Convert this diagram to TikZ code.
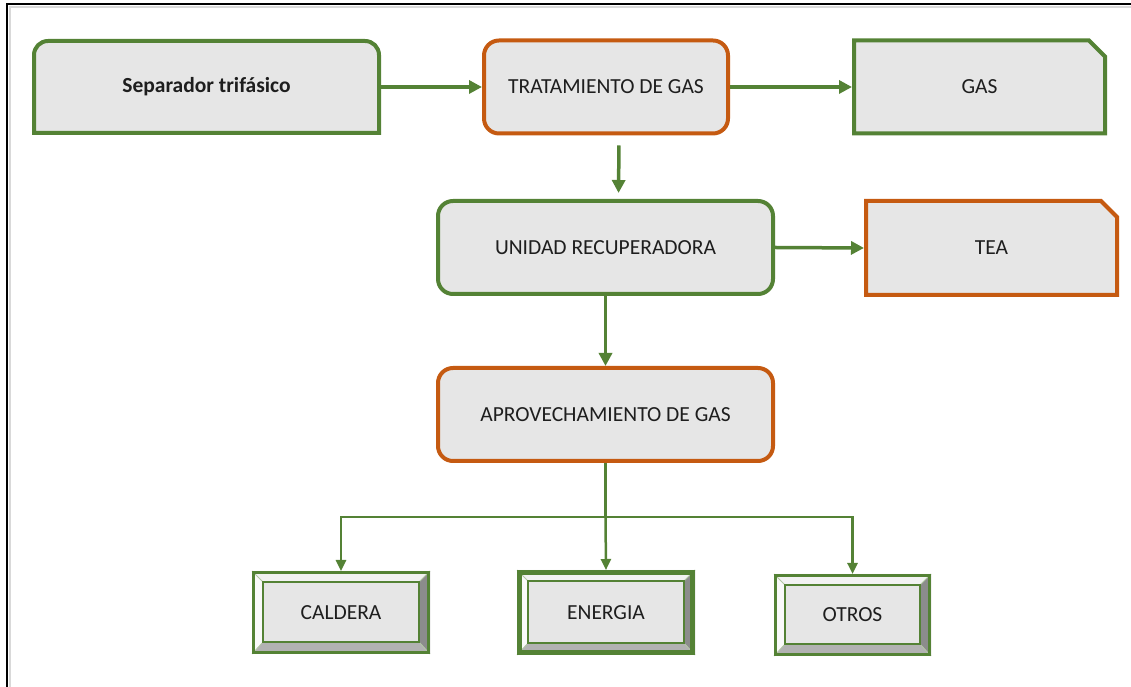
\documentclass[tikz,border=0pt]{standalone}
\usepackage{fontspec}
\setmainfont{Carlito}
\usetikzlibrary{arrows.meta,backgrounds}
\definecolor{grn}{HTML}{548235}
\definecolor{org}{HTML}{C55A11}
\definecolor{boxgray}{HTML}{E6E6E6}
\definecolor{txt}{HTML}{1E1E1E}

\begin{document}
\begin{tikzpicture}[x=1pt,y=1pt,
  font=\fontsize{21.5}{25}\selectfont, text=txt,
  roundbox/.style={draw=#1, fill=boxgray, line width=4pt, rounded corners=15pt, minimum width=335, minimum height=93},
  snipbox/.style={outer sep=0pt, minimum width=251, minimum height=93},
  bevelbox/.style={draw=grn, line width=3pt, minimum width=175, minimum height=80},
  arr/.style={draw=grn, line width=3.5pt, -{Triangle[length=13pt,width=13pt]}},
  thinarr/.style={draw=grn, line width=2.5pt, -{Triangle[length=11pt,width=10pt]}}]
\useasboundingbox (0,0) rectangle (1131,687);

% frame
\draw[black!15, line width=2pt] (9.5,0) -- (9.5,680) -- (1131,680);
\draw[black, line width=2pt] (6.5,0) -- (6.5,683) -- (1131,683);

% boxes
\node[minimum width=345, minimum height=92, outer sep=0pt, font=\fontsize{21.5}{25}\selectfont\bfseries] (sep) at (206.5,600) {Separador trifásico};
\node[roundbox=org, minimum width=244] (trat) at (606,600) {TRATAMIENTO DE GAS};
\node[snipbox] (gas) at (979.5,600) {GAS};
\node[roundbox=grn] (uni) at (605.5,439.5) {UNIDAD RECUPERADORA};
\node[snipbox, minimum height=94] (tea) at (991.5,439) {TEA};
\node[roundbox=org] (apr) at (605.5,272.5) {APROVECHAMIENTO DE GAS};

\node[bevelbox] (cald) at (341,74.5) {CALDERA};
\node[bevelbox, line width=5pt, minimum width=173] (ener) at (606,74.5) {ENERGIA};
\node[bevelbox, minimum width=154, minimum height=79] (otro) at (852.5,72) {OTROS};

\begin{scope}[on background layer]
\filldraw[draw=grn, fill=boxgray, line width=4pt] (sep.south west) -- ([yshift=-14pt]sep.north west) arc[start angle=180, end angle=90, radius=14pt] -- ([xshift=-14pt]sep.north east) arc[start angle=90, end angle=0, radius=14pt] -- (sep.south east) -- cycle;
\filldraw[draw=grn, fill=boxgray, line width=4pt] (gas.south west) -- (gas.north west) -- ([xshift=-16pt]gas.north east) -- ([yshift=-16pt]gas.north east) -- (gas.south east) -- cycle;
\filldraw[draw=org, fill=boxgray, line width=4pt] (tea.south west) -- (tea.north west) -- ([xshift=-16pt]tea.north east) -- ([yshift=-16pt]tea.north east) -- (tea.south east) -- cycle;
\foreach \b in {cald,ener,otro}{
  \fill[black!5] (\b.north west) -- (\b.north east) -- ([shift={(-11pt,-11pt)}]\b.north east) -- ([shift={(11pt,-11pt)}]\b.north west) -- cycle;
  \fill[black!2] (\b.north west) -- ([shift={(11pt,-11pt)}]\b.north west) -- ([shift={(11pt,12pt)}]\b.south west) -- (\b.south west) -- cycle;
  \fill[black!45] (\b.north east) -- (\b.south east) -- ([shift={(-11pt,12pt)}]\b.south east) -- ([shift={(-11pt,-11pt)}]\b.north east) -- cycle;
  \fill[black!30] (\b.south west) -- ([shift={(11pt,12pt)}]\b.south west) -- ([shift={(-11pt,12pt)}]\b.south east) -- (\b.south east) -- cycle;
  \draw[grn!45, line width=0.8pt] (\b.north west) -- ([shift={(11pt,-11pt)}]\b.north west)
    (\b.north east) -- ([shift={(-11pt,-11pt)}]\b.north east)
    (\b.south west) -- ([shift={(11pt,12pt)}]\b.south west)
    (\b.south east) -- ([shift={(-11pt,12pt)}]\b.south east);
  \filldraw[fill=boxgray, draw=grn, line width=2pt] ([shift={(11pt,-11pt)}]\b.north west) rectangle ([shift={(-11pt,12pt)}]\b.south east);
}
\end{scope}

% connectors
\draw[arr] (sep.east) -- (trat.west);
\draw[arr, shorten >=2pt] (trat.east) -- (gas.west);
\draw[arr, shorten <=10pt, shorten >=6pt] ([xshift=13pt]trat.south) -- ([xshift=13pt]uni.north);
\draw[arr, shorten >=2pt] (uni.east) -- (tea.west);
\draw[arr] (uni.south) -- (apr.north);

\coordinate (split) at (605.5,170);
\draw[draw=grn, line width=2.5pt] (apr.south) -- (split);
\draw[draw=grn, line width=2.5pt, line cap=rect] (split -| cald) -- (split -| otro);
\draw[thinarr] (split -| cald) -- (cald.north);
\draw[thinarr] (split) -- (ener.north);
\draw[thinarr] (split -| otro) -- (otro.north);
\end{tikzpicture}
\end{document}
